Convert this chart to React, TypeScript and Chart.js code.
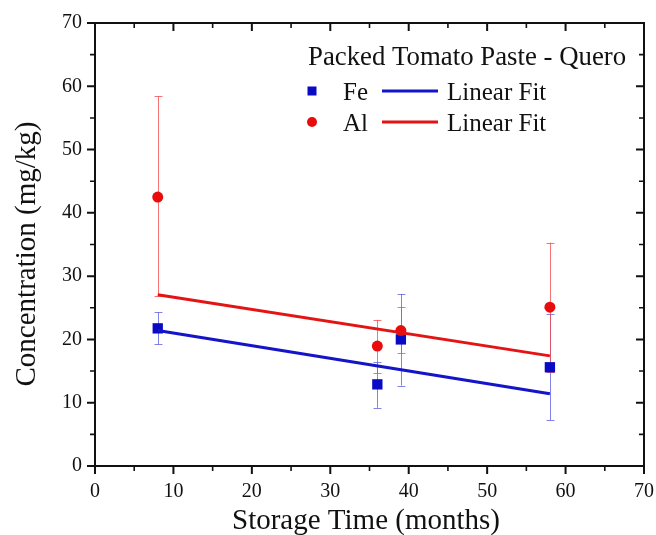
import React, { useEffect, useRef } from "react";
import { Chart, registerables } from "chart.js";

Chart.register(...registerables);

// ---- data ----
const storageMonths = [8, 36, 39, 58];
const feValues = [21.75, 12.9, 20.0, 15.6];
const feErrLow = [19.2, 9.2, 12.7, 7.2];
const feErrHigh = [24.3, 16.5, 27.2, 24.0];
const alValues = [42.5, 18.95, 21.4, 25.1];
const alErrLow = [26.9, 14.7, 17.8, 14.9];
const alErrHigh = [58.4, 23.1, 25.2, 35.3];
const fitMonths = [8, 58];
const feFitValues = [21.4, 11.4];
const alFitValues = [27.05, 17.4];
const axisMin = 0;
const axisMax = 70;
const majorStep = 10;
const minorStep = 5;

const legendTitle = "Packed Tomato Paste - Quero";
const seriesNames = ["Fe", "Al"];
const fitName = "Linear Fit";
const xTitle = "Storage Time (months)";
const yTitle = "Concentration (mg/kg)";

const FONT = '"Liberation Serif", "Times New Roman", serif';
const FE_COLOR = "#0a0ac4";
const AL_COLOR = "#e80c0c";
const FE_FIT = "#1414c8";
const AL_FIT = "#e41414";
const FE_ERR = "rgba(90,90,225,0.75)";
const AL_ERR = "rgba(245,70,70,0.75)";

const decorPlugin = {
  id: "decor",
  beforeDatasetsDraw(chart: any) {
    const { ctx } = chart;
    const xs = chart.scales.x;
    const ys = chart.scales.y;
    const drawErr = (vals: number[], lo: number[], hi: number[], color: string) => {
      ctx.save();
      ctx.strokeStyle = color;
      ctx.lineWidth = 1;
      storageMonths.forEach((m, i) => {
        const px = Math.round(xs.getPixelForValue(m)) + 0.5;
        const pLo = ys.getPixelForValue(lo[i]);
        const pHi = ys.getPixelForValue(hi[i]);
        ctx.beginPath();
        ctx.moveTo(px, pLo);
        ctx.lineTo(px, pHi);
        ctx.moveTo(px - 4, Math.round(pLo) + 0.5);
        ctx.lineTo(px + 4, Math.round(pLo) + 0.5);
        ctx.moveTo(px - 4, Math.round(pHi) + 0.5);
        ctx.lineTo(px + 4, Math.round(pHi) + 0.5);
        ctx.stroke();
      });
      ctx.restore();
    };
    drawErr(feValues, feErrLow, feErrHigh, FE_ERR);
    drawErr(alValues, alErrLow, alErrHigh, AL_ERR);
  },
  afterDraw(chart: any) {
    const { ctx, chartArea } = chart;
    const xs = chart.scales.x;
    const ys = chart.scales.y;
    const { left, right, top, bottom } = chartArea;
    ctx.save();
    ctx.strokeStyle = "#111";
    ctx.lineWidth = 2;
    ctx.strokeRect(left, top, right - left, bottom - top);
    for (let v = axisMin; v <= axisMax; v += minorStep) {
      const major = v % majorStep === 0;
      const len = major ? 8 : 5;
      ctx.lineWidth = major ? 2 : 1.6;
      const px = xs.getPixelForValue(v);
      const py = ys.getPixelForValue(v);
      ctx.beginPath();
      ctx.moveTo(px, bottom);
      ctx.lineTo(px, bottom + len);
      ctx.moveTo(px, top);
      ctx.lineTo(px, top + len);
      ctx.moveTo(left - len, py);
      ctx.lineTo(left, py);
      ctx.moveTo(right, py);
      ctx.lineTo(right - len, py);
      ctx.stroke();
    }
    // axis titles
    ctx.fillStyle = "#111";
    ctx.font = `29px ${FONT}`;
    ctx.textAlign = "center";
    ctx.textBaseline = "alphabetic";
    ctx.fillText(xTitle, 366, 529);
    ctx.save();
    ctx.translate(35, 254);
    ctx.rotate(-Math.PI / 2);
    ctx.fillText(yTitle, 0, 0);
    ctx.restore();

    // legend
    ctx.textAlign = "left";
    ctx.font = `26.8px ${FONT}`;
    ctx.fillText(legendTitle, 308, 65);
    ctx.font = `25px ${FONT}`;
    const rows = [
      { name: seriesNames[0], y: 91, color: FE_COLOR, fit: FE_FIT, shape: "rect" },
      { name: seriesNames[1], y: 122, color: AL_COLOR, fit: AL_FIT, shape: "circle" },
    ];
    rows.forEach((r) => {
      ctx.fillStyle = r.color;
      if (r.shape === "rect") {
        ctx.fillRect(312 - 4.5, r.y - 4.5, 9, 9);
      } else {
        ctx.beginPath();
        ctx.arc(312, r.y, 5, 0, Math.PI * 2);
        ctx.fill();
      }
      ctx.fillStyle = "#111";
      ctx.fillText(r.name, 343, r.y + 8.5);
      ctx.strokeStyle = r.fit;
      ctx.lineWidth = 3;
      ctx.beginPath();
      ctx.moveTo(382, r.y);
      ctx.lineTo(438, r.y);
      ctx.stroke();
      ctx.fillText(fitName, 447, r.y + 8.5);
    });
    ctx.restore();
  },
};

export default function App() {
  const ref = useRef<HTMLCanvasElement | null>(null);
  useEffect(() => {
    document.body.style.margin = "0";
    const canvas = ref.current;
    if (!canvas) return;
    const tickFont = { family: FONT, size: 20 };
    const chart = new Chart(canvas, {
      type: "scatter",
      data: {
        datasets: [
          {
            label: "Fe",
            data: storageMonths.map((m, i) => ({ x: m, y: feValues[i] })),
            pointStyle: "rect",
            pointRadius: 7.3,
            backgroundColor: FE_COLOR,
            borderColor: FE_COLOR,
            borderWidth: 0,
            showLine: false,
            order: 4,
          },
          {
            label: "Al",
            data: storageMonths.map((m, i) => ({ x: m, y: alValues[i] })),
            pointStyle: "circle",
            pointRadius: 5.5,
            backgroundColor: AL_COLOR,
            borderColor: AL_COLOR,
            borderWidth: 0,
            showLine: false,
            order: 3,
          },
          {
            label: "Fe fit",
            data: fitMonths.map((m, i) => ({ x: m, y: feFitValues[i] })),
            showLine: true,
            pointRadius: 0,
            borderColor: FE_FIT,
            borderWidth: 3,
            order: 2,
          },
          {
            label: "Al fit",
            data: fitMonths.map((m, i) => ({ x: m, y: alFitValues[i] })),
            showLine: true,
            pointRadius: 0,
            borderColor: AL_FIT,
            borderWidth: 3,
            order: 1,
          },
        ],
      },
      options: {
        responsive: false,
        animation: false,
        layout: { padding: { left: 0, right: 12, top: 23, bottom: 0 } },
        plugins: {
          legend: { display: false },
          tooltip: { enabled: false },
        },
        scales: {
          x: {
            type: "linear",
            min: axisMin,
            max: axisMax,
            grid: { display: false, drawTicks: false },
            border: { display: false },
            ticks: { stepSize: majorStep, color: "#111", font: tickFont, padding: 14, maxRotation: 0 },
            afterFit: (s: any) => {
              s.height = 69;
              s.paddingLeft = 0;
              s.paddingRight = 0;
            },
          },
          y: {
            type: "linear",
            min: axisMin,
            max: axisMax,
            grid: { display: false, drawTicks: false },
            border: { display: false },
            ticks: { stepSize: majorStep, color: "#111", font: tickFont, padding: 13 },
            afterFit: (s: any) => {
              s.width = 95;
              s.paddingTop = 0;
              s.paddingBottom = 0;
            },
          },
        },
      },
      plugins: [decorPlugin],
    } as any);
    return () => chart.destroy();
  }, []);
  return (
    <div style={{ position: "absolute", left: 0, top: 0, width: 656, height: 535, background: "#fff" }}>
      <canvas ref={ref} width={656} height={535} />
    </div>
  );
}
